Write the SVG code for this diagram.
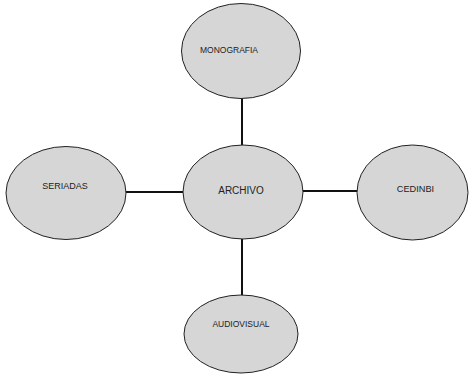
<svg xmlns="http://www.w3.org/2000/svg" width="470" height="375" viewBox="0 0 470 375">
<style>
.n{fill:#d6d6d6;stroke:#222;stroke-width:1}
.t{font-family:"Liberation Sans",Arial,sans-serif;fill:#222;text-anchor:middle}
.c{stroke:#111;stroke-width:2;fill:none}
</style>
<rect width="470" height="375" fill="#fff"/>
<g id="connectors">
<line class="c" x1="242" y1="98" x2="242" y2="146"/>
<line class="c" x1="242" y1="238" x2="242" y2="296"/>
<line class="c" x1="125" y1="192" x2="184" y2="192"/>
<line class="c" x1="302" y1="191" x2="358" y2="191"/>
</g>
<g id="monografia">
<ellipse class="n" cx="241" cy="51" rx="59.5" ry="47.5"/>
<text class="t" x="229" y="53" font-size="8.5">MONOGRAFIA</text>
</g>
<g id="seriadas">
<ellipse class="n" cx="66" cy="193" rx="60" ry="46.5"/>
<text class="t" x="65" y="189" font-size="9">SERIADAS</text>
</g>
<g id="archivo">
<ellipse class="n" cx="243" cy="192" rx="60" ry="47"/>
<text class="t" x="241" y="193.5" font-size="10">ARCHIVO</text>
</g>
<g id="cedinbi">
<ellipse class="n" cx="412.5" cy="192.5" rx="55.5" ry="47.5"/>
<text class="t" x="415.5" y="192" font-size="9.2">CEDINBI</text>
</g>
<g id="audiovisual">
<ellipse class="n" cx="241" cy="334" rx="57" ry="39"/>
<text class="t" x="241" y="327" font-size="8.5">AUDIOVISUAL</text>
</g>
</svg>
